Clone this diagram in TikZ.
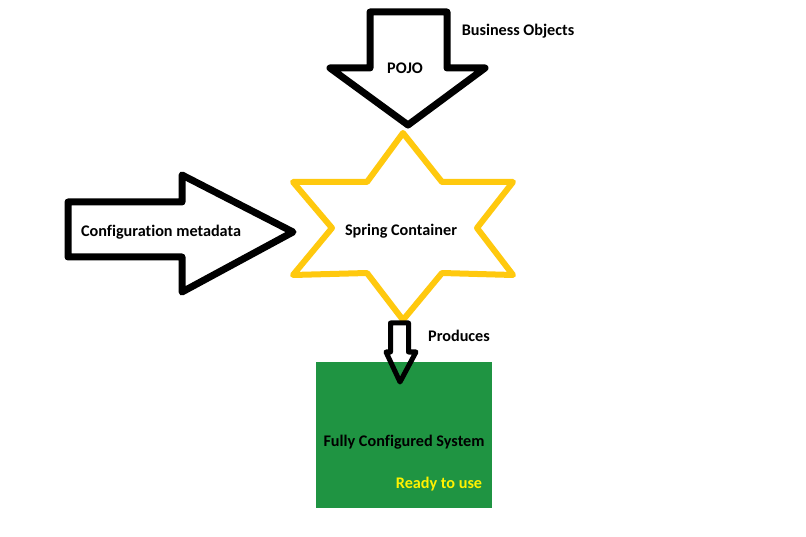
\documentclass[tikz,border=0pt]{standalone}
\usepackage{fontspec}
\setmainfont[Ligatures={NoCommon,NoRequired,NoContextual}]{Carlito}
\definecolor{gold}{RGB}{255,201,14}
\definecolor{boxgreen}{RGB}{31,148,66}
\definecolor{readyyellow}{RGB}{255,242,0}
\begin{document}
\begin{tikzpicture}[x=1pt,y=-1pt,
  lbl/.style={font=\fontsize{16.2}{19}\selectfont\bfseries, inner sep=0pt, text=black},
  bigarrow/.style={draw=black, line width=7pt, line join=round, fill=white},
  smallarrow/.style={draw=black, line width=5pt, line join=round},
  starline/.style={draw=gold, line width=6pt, line join=round, fill=white}]
\useasboundingbox[fill=white] (0,0) rectangle (806,537);
% green box
\node[fill=boxgreen, minimum width=176pt, minimum height=146pt, inner sep=0pt, anchor=north west] (sys) at (316,362) {};
% POJO arrow
\draw[bigarrow] (370,12) -- (447,12) -- (447,68) -- (485,68) -- (408,125) -- (330,68) -- (370,68) -- cycle;
% Configuration arrow
\draw[bigarrow] (68,202) -- (182,202) -- (182,175) -- (293,232) -- (182,292) -- (182,257) -- (68,257) -- cycle;
% star
\draw[starline] (403,133) -- (442,182) -- (513,182) -- (477,228) -- (513,275) -- (442,273) -- (403,320) -- (367,273) -- (293,275) -- (332,228) -- (293,182) -- (367,182) -- cycle;
% small arrow
\draw[smallarrow] (390.5,323) -- (408.5,323) -- (408.5,352) -- (416,352) -- (400,382) -- (386,352) -- (390.5,352) -- cycle;
% labels
\node[lbl] (pojo) at (405,68) {POJO};
\node[lbl] (bo) at (518,31) {Business Objects};
\node[lbl] (cfg) at (161,232) {Configuration metadata};
\node[lbl] (sc) at (401,231) {Spring Container};
\node[lbl] (prod) at (459,336) {Produces};
\node[lbl] (fcs) at (404,442) {Fully Configured System};
\node[lbl, text=readyyellow] (ready) at (439,484) {Ready to use};
\end{tikzpicture}
\end{document}
